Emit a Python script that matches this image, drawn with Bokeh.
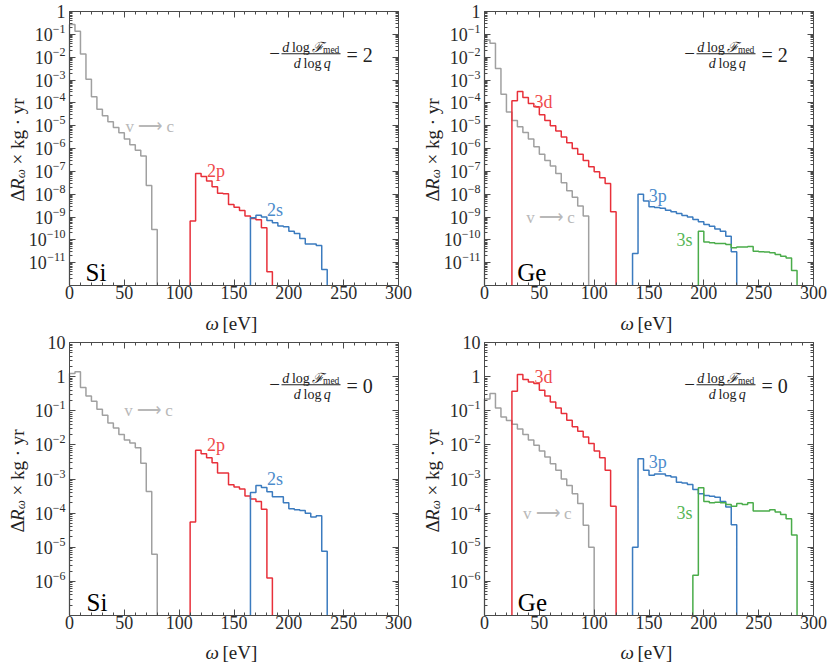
import numpy as np
from bokeh.plotting import figure
from bokeh.models import (Range1d, LinearAxis, LogAxis, FixedTicker, SingleIntervalTicker,
                          CustomJSTickFormatter, Label, BoxAnnotation)
from bokeh.layouts import column, row
from bokeh.embed import file_html
from bokeh.resources import INLINE

# ---------------- data ----------------
BIN = 5.0                      # eV bin width
x_lim = (0, 300)
x_ticks_interval = 50
top_ylim = (1e-12, 1.0)
bot_ylim = (1e-7, 10.0)
top_major = [1e-11, 1e-10, 1e-9, 1e-8, 1e-7, 1e-6, 1e-5, 1e-4, 1e-3, 1e-2, 1e-1, 1.0]
bot_major = [1e-6, 1e-5, 1e-4, 1e-3, 1e-2, 1e-1, 1.0, 10.0]

# Si, -dlogF/dlogq = 2
si2_vc_start = 0
si2_vc = [0.27, 0.137, 0.0138, 1.09e-3, 1.85e-4, 5.3e-5, 2.7e-5, 1.5e-5, 8.3e-6, 4.9e-6,
          2.6e-6, 1.45e-6, 8.4e-7, 4.7e-7, 2.4e-8, 2.8e-10]
si2_2p_start = 110
si2_2p = [6.6e-10, 8.0e-8, 5.9e-8, 3.8e-8, 2.1e-8, 1.1e-8, 1.05e-8, 3.5e-9, 2.7e-9, 1.95e-9,
          1.1e-9, 8.7e-10, 7.5e-10, 3.4e-10, 4.0e-12]
si2_2s_start = 165
si2_2s = [9.3e-10, 1.2e-9, 1.0e-9, 7.1e-10, 5.6e-10, 4.0e-10, 3.7e-10, 2.4e-10, 1.9e-10,
          1.15e-10, 6.6e-11, 6.6e-11, 5.6e-11, 5.0e-12]

# Ge, -dlogF/dlogq = 2
ge2_vc_start = 0
ge2_vc = [0.057, 0.041, 3.2e-3, 2.4e-4, 4.0e-5, 1.7e-5, 8.9e-6, 5.0e-6, 2.6e-6, 1.2e-6,
          5.6e-7, 3.0e-7, 1.7e-7, 8.0e-8, 3.2e-8, 1.4e-8, 7.4e-9, 3.0e-9, 1.1e-9]
ge2_3d_start = 25
ge2_3d = [1.23e-4, 3.1e-4, 1.7e-4, 9.4e-5, 6.7e-5, 3.0e-5, 1.7e-5, 9.8e-6, 5.9e-6, 3.2e-6,
          1.8e-6, 1.0e-6, 5.6e-7, 3.0e-7, 1.6e-7, 9.7e-8, 5.3e-8, 2.9e-8, 1.7e-9]
ge2_3p_start = 135
ge2_3p = [2.5e-11, 9.8e-9, 5.0e-9, 2.8e-9, 2.6e-9, 2.4e-9, 2.0e-9, 1.7e-9, 1.44e-9, 1.17e-9,
          1.0e-9, 7.8e-10, 6.2e-10, 4.7e-10, 3.9e-10, 3.0e-10, 2.4e-10, 1.45e-10, 3.0e-11]
ge2_3s_start = 195
ge2_3s = [2.4e-10, 8.1e-11, 7.4e-11, 6.9e-11, 6.9e-11, 6.3e-11, 4.5e-11, 4.8e-11, 4.9e-11,
          5.1e-11, 3.2e-11, 3.0e-11, 2.9e-11, 2.7e-11, 2.3e-11, 1.9e-11, 1.6e-11, 4.5e-12]

# Si, -dlogF/dlogq = 0
si0_vc_start = 0
si0_vc = [1.23, 1.38, 0.48, 0.27, 0.19, 0.11, 0.074, 0.044, 0.031, 0.020, 0.014, 0.0114,
          8.3e-3, 2.9e-3, 4.3e-4, 6.2e-6]
si0_2p_start = 110
si0_2p = [5.5e-5, 6.9e-3, 5.5e-3, 4.2e-3, 3.0e-3, 1.5e-3, 1.5e-3, 6.8e-4, 5.8e-4, 5.1e-4,
          3.2e-4, 2.6e-4, 2.2e-4, 1.3e-4, 1.26e-6]
si0_2s_start = 165
si0_2s = [4.0e-4, 6.5e-4, 5.6e-4, 4.2e-4, 3.0e-4, 3.0e-4, 2.0e-4, 1.35e-4, 1.26e-4, 1.2e-4,
          1.0e-4, 7.7e-5, 8.4e-5, 7.6e-6]

# Ge, -dlogF/dlogq = 0
ge0_vc_start = 0
ge0_vc = [0.22, 0.32, 0.12, 0.066, 0.052, 0.040, 0.029, 0.020, 0.014, 9.7e-3, 6.6e-3, 4.4e-3,
          2.8e-3, 1.8e-3, 1.0e-3, 6.5e-4, 3.7e-4, 1.9e-4, 4.4e-5, 1.0e-5]
ge0_3d_start = 25
ge0_3d = [0.37, 1.15, 0.82, 0.70, 0.63, 0.40, 0.27, 0.18, 0.12, 0.083, 0.053, 0.034, 0.025,
          0.017, 0.011, 6.6e-3, 4.2e-3, 1.8e-3, 1.6e-4]
ge0_3p_start = 135
ge0_3p = [1.0e-5, 3.9e-3, 1.8e-3, 1.28e-3, 1.4e-3, 1.4e-3, 1.25e-3, 1.15e-3, 8.0e-4, 7.6e-4,
          6.9e-4, 4.9e-4, 3.7e-4, 3.3e-4, 3.1e-4, 2.9e-4, 2.2e-4, 1.5e-4, 4.6e-5]
ge0_3s_start = 190
ge0_3s = [1.5e-6, 5.5e-4, 2.2e-4, 2.0e-4, 2.1e-4, 2.0e-4, 1.8e-4, 1.6e-4, 1.9e-4, 1.8e-4,
          2.0e-4, 1.15e-4, 1.15e-4, 1.15e-4, 1.26e-4, 1.07e-4, 9.1e-5, 6.8e-5, 2.3e-5]

# ---------------- styling ----------------
FONT = "Liberation Serif"
C_GRAY, C_RED, C_BLUE, C_GREEN = "#a0a0a0", "#e8303a", "#3b7bbf", "#4aac4a"
T_GRAY, T_RED, T_BLUE, T_GREEN = "#b8b8b8", "#ef4a4a", "#4c8bcb", "#56b656"
AX = "#4a4a4a"
TICK_TXT = "#2a2a2a"
MAIN_PX, EXP_PX = 18, 12


def minor_list(ylim):
    lo, hi = int(round(np.log10(ylim[0]))), int(round(np.log10(ylim[1])))
    return [k * 10.0 ** n for n in range(lo, hi) for k in range(2, 10)]


def step_xy(start, vals, floor):
    edges = start + BIN * np.arange(len(vals) + 1)
    xs, ys = [edges[0]], [floor]
    for i, v in enumerate(vals):
        xs += [edges[i], edges[i + 1]]
        ys += [v, v]
    xs.append(edges[-1]); ys.append(floor)
    return xs, ys


def make_panel(W, H, box, ylim, major, series, texts, element, elem_pos, slope, xlab_off):
    # box = pixel edges (left, right, top, bottom) of the plotting box inside the canvas
    bl, br, bt, bb = box
    fw, fh = br - bl, bb - bt
    x0, x1 = x_lim
    lo, hi = np.log10(ylim[0]), np.log10(ylim[1])
    dec = fh / (hi - lo)
    xpp = (x1 - x0) / fw          # data units per pixel along x

    def px(x_rel, y_rel):
        return x0 + xpp * x_rel, 10 ** (hi - y_rel / dec)

    xr = Range1d(x0 - xpp * bl, x1 + xpp * (W - br))
    yr = Range1d(10 ** (lo - (H - bb) / dec), 10 ** (hi + bt / dec))

    p = figure(width=W, height=H, x_range=xr, y_range=yr, y_axis_type="log",
               output_backend="svg", toolbar_location=None,
               min_border_left=0, min_border_right=0, min_border_top=0, min_border_bottom=0)
    p.grid.visible = False
    p.outline_line_color = None
    p.background_fill_color = "white"
    p.border_fill_color = "white"

    xt = SingleIntervalTicker(interval=x_ticks_interval, num_minor_ticks=5)
    yt = FixedTicker(ticks=major, minor_ticks=minor_list(ylim))

    def style(ax, labels=True):
        ax.axis_line_color = AX
        ax.major_tick_line_color = AX
        ax.minor_tick_line_color = AX
        ax.major_tick_in = 6
        ax.major_tick_out = 0
        ax.minor_tick_in = 3
        ax.minor_tick_out = 0
        if labels:
            ax.major_label_text_font = FONT
            ax.major_label_text_font_size = "%dpx" % MAIN_PX
            ax.major_label_text_color = TICK_TXT
        else:
            ax.formatter = CustomJSTickFormatter(code="return '';")
            ax.major_label_text_font_size = "0px"
            ax.major_label_standoff = 0

    xa = p.xaxis[0]
    ya = p.yaxis[0]
    xa.ticker = xt
    ya.ticker = yt
    style(xa); style(ya, False)
    xa.major_label_standoff = 0
    xa.fixed_location = ylim[0]
    ya.fixed_location = x0
    xa.bounds = x_lim
    ya.bounds = ylim

    top = LinearAxis(ticker=xt, fixed_location=ylim[1], bounds=x_lim)
    style(top, False)
    p.add_layout(top, "above")
    right = LogAxis(ticker=yt, fixed_location=x1, bounds=ylim)
    style(right, False)
    p.add_layout(right, "right")

    # y tick labels: "10" with a raised exponent
    for t in major:
        e = int(round(np.log10(t)))
        xr_main = -4.0
        if e not in (0, 1):
            digits = str(abs(e))
            exp_txt = ("\u2212" if e < 0 else "") + digits
            w_exp = EXP_PX * (0.564 * (e < 0) + 0.5 * len(digits))
            p.add_layout(Label(x=x0 + xpp * (-4.0), y=t * 10 ** (5.5 / dec), text=exp_txt,
                               text_font=FONT, text_font_size="%dpx" % EXP_PX,
                               text_color=TICK_TXT, text_align="right",
                               text_baseline="middle"))
            xr_main = -4.0 - w_exp
            main_txt = "10"
        else:
            main_txt = "1" if e == 0 else "10"
        p.add_layout(Label(x=x0 + xpp * xr_main, y=t, text=main_txt, text_font=FONT,
                           text_font_size="%dpx" % MAIN_PX, text_color=TICK_TXT,
                           text_align="right", text_baseline="middle"))

    for start, vals, col in series:
        xs, ys = step_xy(start, vals, ylim[0])
        p.line(xs, ys, line_color=col, line_width=1.5)

    for (tx, ty, txt, col, size) in texts:
        p.add_layout(Label(x=tx, y=ty, text=txt, text_color=col, text_font=FONT,
                           text_font_size=size, text_align="left",
                           text_baseline="alphabetic"))
    ex, ey = elem_pos
    p.add_layout(Label(x=ex, y=ey, text=element, text_color="black", text_font=FONT,
                       text_font_size="25px", text_baseline="alphabetic"))

    def lab(xr_, yr_, txt, size, italic=False, align="left", baseline="middle",
            angle=0.0, color="#222222"):
        x, y = px(xr_, yr_)
        p.add_layout(Label(x=x, y=y, text=txt, text_font=FONT, text_font_size=size,
                           text_font_style="italic" if italic else "normal",
                           text_align=align, text_baseline=baseline, angle=angle,
                           text_color=color))

    # formula  -(d log F_med)/(d log q) = slope
    lab(205, 42.3, "\u2212", "19px", align="center")
    lab(212.7, 35.7, "d", "14px", italic=True)
    lab(222.4, 35.7, "log", "14px")
    lab(242.7, 35.7, "\u2131", "14px", italic=True)
    lab(253.5, 38.8, "med", "9.5px")
    bx0, by0 = px(212.0, 41.8)
    bx1, by1 = px(271.0, 42.8)
    p.add_layout(BoxAnnotation(left=bx0, right=bx1, top=by0, bottom=by1,
                               fill_color="#222222", fill_alpha=1.0, line_color=None))
    lab(224.3, 51.7, "d", "14px", italic=True)
    lab(234.0, 51.7, "log", "14px")
    lab(254.3, 51.7, "q", "14px", italic=True)
    lab(277.0, 43.0, "= " + slope, "20px")

    # y-axis title (rotated pieces)
    ang = np.pi / 2
    lab(-52, 190.0, "\u0394", "19px", baseline="alphabetic", angle=ang)
    lab(-52, 178.4, "R", "19px", italic=True, baseline="alphabetic", angle=ang)
    lab(-49, 166.8, "\u03c9", "13px", italic=True, baseline="alphabetic", angle=ang)
    lab(-52, 153.0, "\u00d7 kg \u00b7 yr", "19px", baseline="alphabetic", angle=ang)

    # x-axis title
    lab(136, fh + xlab_off, "\u03c9", "19px", italic=True, baseline="alphabetic")
    lab(153, fh + xlab_off, "[eV]", "19px", baseline="alphabetic")
    return p


VC = "v \u27f6 c"
p1 = make_panel(423, 333, (69, 398, 11, 285), top_ylim, top_major,
                [(si2_vc_start, si2_vc, C_GRAY), (si2_2p_start, si2_2p, C_RED),
                 (si2_2s_start, si2_2s, C_BLUE)],
                [(51, 10 ** -5.05, VC, T_GRAY, "17px"),
                 (125.4, 10 ** -6.98, "2p", T_RED, "18px"),
                 (180, 10 ** -8.71, "2s", T_BLUE, "18px")],
                "Si", (14.6, 10 ** -11.45), "2", 38)
p2 = make_panel(408, 333, (61, 390, 11, 285), top_ylim, top_major,
                [(ge2_vc_start, ge2_vc, C_GRAY), (ge2_3d_start, ge2_3d, C_RED),
                 (ge2_3p_start, ge2_3p, C_BLUE), (ge2_3s_start, ge2_3s, C_GREEN)],
                [(45.5, 10 ** -3.98, "3d", T_RED, "18px"),
                 (38, 10 ** -9.03, VC, T_GRAY, "17px"),
                 (149.7, 10 ** -8.08, "3p", T_BLUE, "18px"),
                 (175, 10 ** -9.99, "3s", T_GREEN, "18px")],
                "Ge", (29.8, 10 ** -11.45), "2", 38)
p3 = make_panel(423, 330, (69, 398, 9, 282), bot_ylim, bot_major,
                [(si0_vc_start, si0_vc, C_GRAY), (si0_2p_start, si0_2p, C_RED),
                 (si0_2s_start, si0_2s, C_BLUE)],
                [(50, 10 ** -0.985, VC, T_GRAY, "17px"),
                 (125.4, 10 ** -2.01, "2p", T_RED, "18px"),
                 (180, 10 ** -2.99, "2s", T_BLUE, "18px")],
                "Si", (15.5, 10 ** -6.61), "0", 37)
p4 = make_panel(408, 330, (61, 390, 9, 282), bot_ylim, bot_major,
                [(ge0_vc_start, ge0_vc, C_GRAY), (ge0_3d_start, ge0_3d, C_RED),
                 (ge0_3p_start, ge0_3p, C_BLUE), (ge0_3s_start, ge0_3s, C_GREEN)],
                [(45.5, 10 ** -0.007, "3d", T_RED, "18px"),
                 (35.2, 10 ** -4.0, VC, T_GRAY, "17px"),
                 (149.7, 10 ** -2.50, "3p", T_BLUE, "18px"),
                 (175, 10 ** -4.0, "3s", T_GREEN, "18px")],
                "Ge", (30.4, 10 ** -6.61), "0", 37)

layout = column(row(p1, p2), row(p3, p4))
open("out.html", "w").write(file_html(layout, INLINE))
